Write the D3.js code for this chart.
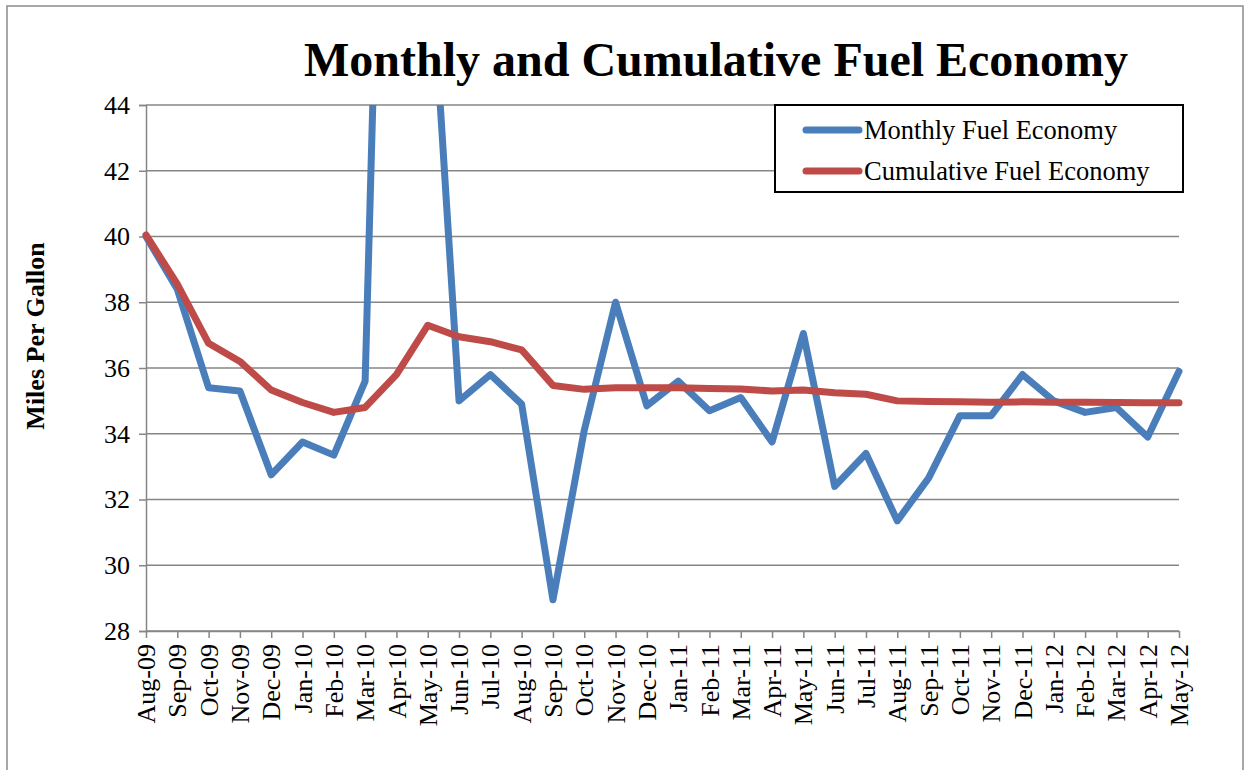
<!DOCTYPE html>
<html>
<head>
<meta charset="utf-8">
<script src="https://cdn.jsdelivr.net/npm/d3@7"></script>
<style>
  body { margin: 0; background: #fff; }
  text { font-family: "Liberation Serif", "Times New Roman", serif; }
</style>
</head>
<body>
<svg id="chart" width="1250" height="770"></svg>
<script>
// month labels, Aug-09 .. May-12
var months = ["Aug-09","Sep-09","Oct-09","Nov-09","Dec-09",
  "Jan-10","Feb-10","Mar-10","Apr-10","May-10","Jun-10","Jul-10","Aug-10","Sep-10","Oct-10","Nov-10","Dec-10",
  "Jan-11","Feb-11","Mar-11","Apr-11","May-11","Jun-11","Jul-11","Aug-11","Sep-11","Oct-11","Nov-11","Dec-11",
  "Jan-12","Feb-12","Mar-12","Apr-12","May-12"];

// monthly mpg (Apr/May-10 run off the top of the chart)
var monthly = [40.0, 38.4, 35.4, 35.3, 32.75,
  33.75, 33.35, 35.6, 70.0, 50.0, 35.0, 35.8, 34.9, 28.95, 34.1, 38.0, 34.85,
  35.6, 34.7, 35.1, 33.75, 37.05, 32.4, 33.4, 31.35, 32.65, 34.55, 34.55, 35.8,
  35.0, 34.65, 34.8, 33.9, 35.9];

// cumulative mpg
var cumulative = [40.05, 38.55, 36.75, 36.2, 35.33,
  34.95, 34.65, 34.8, 35.8, 37.3, 36.95, 36.8, 36.55, 35.47, 35.35, 35.4, 35.4,
  35.4, 35.38, 35.36, 35.3, 35.33, 35.25, 35.2, 35.0, 34.98, 34.97, 34.96, 34.97,
  34.96, 34.96, 34.95, 34.94, 34.94];

var yTicks = [28, 30, 32, 34, 36, 38, 40, 42, 44];

var series = [
  {name: "Monthly Fuel Economy", values: monthly, color: "#4a7ebb"},
  {name: "Cumulative Fuel Economy", values: cumulative, color: "#be4b48"}
];

var svg = d3.select("#chart");
var plotLeft = 146, plotRight = 1179, plotTop = 105, plotBottom = 631;
var gridColor = "#868686";
var serif = "Liberation Serif, Times New Roman, serif";

var x = d3.scalePoint().domain(months).range([plotLeft, plotRight]);
var y = d3.scaleLinear().domain([28, 44]).range([plotBottom, plotTop]);

//outer frame
svg.append("rect")
  .attr("x", 7).attr("y", 6)
  .attr("width", 1236).attr("height", 800)
  .attr("fill", "none")
  .attr("stroke", "#8c8c8c")
  .attr("stroke-width", 1.5);

//title
svg.append("text")
  .attr("x", 716).attr("y", 76)
  .attr("text-anchor", "middle")
  .style("font-size", "48px")
  .style("font-weight", "bold")
  .text("Monthly and Cumulative Fuel Economy");

//gridlines
svg.append("g")
  .selectAll("line")
  .data(yTicks)
  .join("line")
  .attr("x1", plotLeft).attr("x2", plotRight)
  .attr("y1", function(d){ return y(d); })
  .attr("y2", function(d){ return y(d); })
  .attr("stroke", gridColor)
  .attr("stroke-width", 1.5);

//y axis
var yAxis = svg.append("g")
  .attr("transform", "translate(" + plotLeft + ",0)")
  .call(d3.axisLeft(y).tickValues(yTicks).tickSize(7).tickPadding(9).tickFormat(d3.format("d")))
  .attr("font-family", serif)
  .attr("font-size", 26);
yAxis.select(".domain").attr("stroke", gridColor).attr("stroke-width", 1.5);
yAxis.selectAll(".tick line").attr("stroke", gridColor).attr("stroke-width", 1.5);
yAxis.selectAll(".tick text").attr("fill", "#000");

//x axis
var xAxis = svg.append("g")
  .attr("transform", "translate(0," + plotBottom + ")")
  .call(d3.axisBottom(x).tickSize(7).tickSizeOuter(0))
  .attr("font-family", serif)
  .attr("font-size", 26);
xAxis.select(".domain").attr("stroke", gridColor).attr("stroke-width", 1.5);
xAxis.selectAll(".tick line").attr("stroke", gridColor).attr("stroke-width", 1.5);
xAxis.selectAll(".tick text")
  .attr("fill", "#000")
  .attr("transform", "rotate(-90)")
  .attr("text-anchor", "end")
  .attr("x", -13)
  .attr("y", 0)
  .attr("dy", "0.33em");

//y axis title
svg.append("text")
  .attr("transform", "translate(44,336) rotate(-90)")
  .attr("text-anchor", "middle")
  .style("font-size", "26px")
  .style("font-weight", "bold")
  .text("Miles Per Gallon");

//lines, clipped to the plot area
svg.append("clipPath")
  .attr("id", "plotClip")
  .append("rect")
  .attr("x", 0).attr("y", plotTop)
  .attr("width", 1250).attr("height", 770 - plotTop);

var line = d3.line()
  .x(function(d, i){ return x(months[i]); })
  .y(function(d){ return y(d); });

svg.append("g")
  .attr("clip-path", "url(#plotClip)")
  .selectAll("path")
  .data(series)
  .join("path")
  .attr("d", function(s){ return line(s.values); })
  .attr("fill", "none")
  .attr("stroke", function(s){ return s.color; })
  .attr("stroke-width", 7)
  .attr("stroke-linejoin", "round")
  .attr("stroke-linecap", "round");

//legend
var legend = svg.append("g");
legend.append("rect")
  .attr("x", 775).attr("y", 105)
  .attr("width", 408).attr("height", 87)
  .attr("fill", "#fff")
  .attr("stroke", "#000")
  .attr("stroke-width", 2);

var items = legend.selectAll("g.item")
  .data(series)
  .join("g")
  .attr("class", "item")
  .attr("transform", function(d, i){ return "translate(0," + (130 + i * 41) + ")"; });

items.append("line")
  .attr("x1", 806).attr("x2", 859)
  .attr("stroke", function(d){ return d.color; })
  .attr("stroke-width", 7)
  .attr("stroke-linecap", "round");

items.append("text")
  .attr("x", 864)
  .attr("dy", "0.33em")
  .style("font-size", "26.5px")
  .text(function(d){ return d.name; });
</script>
</body>
</html>
